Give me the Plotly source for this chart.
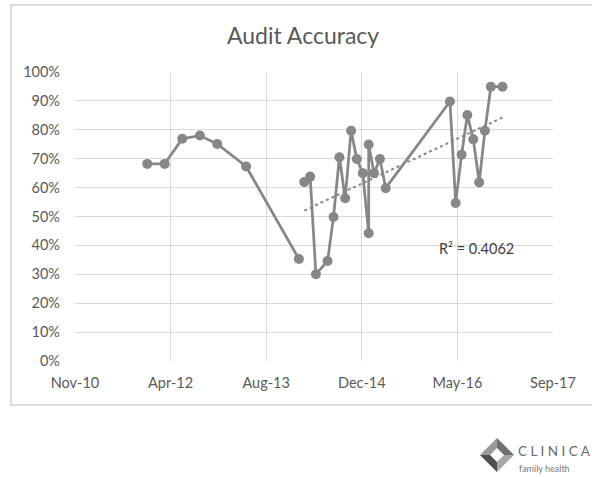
import numpy as np
import pandas as pd
import plotly.graph_objects as go

# ---------------- data ----------------
series1_dates = ["2011-12-01", "2012-03-01", "2012-06-01", "2012-09-01",
                 "2012-12-01", "2013-05-01", "2014-02-01"]
series1_values = [0.682, 0.682, 0.769, 0.780, 0.751, 0.673, 0.353]

series2_dates = ["2014-03-01", "2014-04-01", "2014-05-01", "2014-07-01",
                 "2014-08-01", "2014-09-01", "2014-10-01", "2014-11-01",
                 "2014-12-01", "2015-01-01", "2015-02-01", "2015-02-01",
                 "2015-03-01", "2015-04-01", "2015-05-01", "2016-04-01",
                 "2016-05-01", "2016-06-01", "2016-07-01", "2016-08-01",
                 "2016-09-01", "2016-10-01", "2016-11-01", "2017-01-01"]
series2_values = [0.619, 0.638, 0.300, 0.346, 0.498, 0.705, 0.563, 0.797,
                  0.699, 0.650, 0.442, 0.749, 0.650, 0.699, 0.598, 0.898,
                  0.547, 0.714, 0.851, 0.767, 0.618, 0.797, 0.949, 0.949]

x_tick_dates = ["2010-11-18", "2012-04-01", "2013-08-14", "2014-12-27",
                "2016-05-10", "2017-09-22"]
x_tick_labels = ["Nov-10", "Apr-12", "Aug-13", "Dec-14", "May-16", "Sep-17"]

title_text = "Audit Accuracy"
r2_label = "R² = 0.4062"

# ---------------- layout geometry (pixels) ----------------
W, H = 592, 477
PL, PR, PT, PB = 75, 553, 72, 361  # plot area


def px(x):
    return (x - PL) / (PR - PL)


def py(y):
    return (PB - y) / (PB - PT)


LINE_COLOR = "#878787"
TEXT_COLOR = "#595959"
GRID = "#d9d9d9"
FONT = "Lato, 'Open Sans', sans-serif"

fig = go.Figure()

for d, v in [(series1_dates, series1_values), (series2_dates, series2_values)]:
    fig.add_trace(go.Scatter(
        x=pd.to_datetime(d), y=v, mode="lines+markers",
        line=dict(color=LINE_COLOR, width=2.75),
        marker=dict(color=LINE_COLOR, size=10),
        showlegend=False, hoverinfo="x+y"))

# linear trendline on the second series
t2 = pd.to_datetime(series2_dates)
days = (t2 - t2[0]).days.values.astype(float)
slope, intercept = np.polyfit(days, series2_values, 1)
trend_x = [t2.min(), t2.max()]
trend_days = np.array([(t - t2[0]).days for t in trend_x], dtype=float)
fig.add_trace(go.Scatter(
    x=trend_x, y=slope * trend_days + intercept, mode="lines",
    line=dict(color=LINE_COLOR, width=2, dash="dot"),
    showlegend=False, hoverinfo="skip"))

shapes = []
# chart frame
shapes.append(dict(type="rect", xref="paper", yref="paper",
                   x0=px(11), x1=px(600), y0=py(405), y1=py(5),
                   line=dict(color="#d0d0d0", width=1.5), layer="below"))

# logo diamond ring
cx, cy, ro, ri = 497, 455, 17, 7
O = [(cx - ro, cy), (cx, cy - ro), (cx + ro, cy), (cx, cy + ro)]
I = [(cx - ri, cy), (cx, cy - ri), (cx + ri, cy), (cx, cy + ri)]
shades = ["#9a9a9a", "#6f6f6f", "#a8a8a8", "#4f4f4f"]
for k in range(4):
    a, b = O[k], O[(k + 1) % 4]
    c, d = I[(k + 1) % 4], I[k]
    path = "M {} {} L {} {} L {} {} L {} {} Z".format(
        px(a[0]), py(a[1]), px(b[0]), py(b[1]),
        px(c[0]), py(c[1]), px(d[0]), py(d[1]))
    shapes.append(dict(type="path", xref="paper", yref="paper", path=path,
                       fillcolor=shades[k], line=dict(width=0)))

annotations = [
    dict(text=title_text, x=px(303), y=py(35), xref="paper", yref="paper",
         showarrow=False, font=dict(family=FONT, size=23, color=TEXT_COLOR),
         xanchor="center", yanchor="middle"),
    dict(text=r2_label, x=px(476), y=py(248), xref="paper", yref="paper",
         showarrow=False, font=dict(family=FONT, size=14.5, color="#404040"),
         xanchor="center", yanchor="middle"),
    dict(text="C L I N I C A", x=px(516), y=py(451), xref="paper", yref="paper",
         showarrow=False, font=dict(family=FONT, size=13.5, color="#6a6a6a"),
         xanchor="left", yanchor="middle"),
    dict(text="family health", x=px(517), y=py(468), xref="paper", yref="paper",
         showarrow=False, font=dict(family=FONT, size=9, color="#7a7a7a"),
         xanchor="left", yanchor="middle"),
]

fig.update_layout(
    width=W, height=H,
    margin=dict(l=PL, r=W - PR, t=PT, b=H - PB, pad=0),
    paper_bgcolor="white", plot_bgcolor="white",
    font=dict(family=FONT, size=14.5, color=TEXT_COLOR),
    shapes=shapes, annotations=annotations,
    xaxis=dict(type="date", range=[x_tick_dates[0], x_tick_dates[-1]],
               tickvals=pd.to_datetime(x_tick_dates), ticktext=x_tick_labels,
               showgrid=True, gridcolor=GRID, gridwidth=1, zeroline=False,
               showline=False, ticks="", ticklabelstandoff=11,
               tickfont=dict(size=14.5, color=TEXT_COLOR), fixedrange=True),
    yaxis=dict(range=[0, 1], tickvals=[i / 10 for i in range(11)],
               tickformat=".0%", showgrid=True, gridcolor=GRID, gridwidth=1,
               zeroline=False, showline=False, ticks="", ticklabelstandoff=14,
               tickfont=dict(size=14.5, color=TEXT_COLOR), fixedrange=True),
)

fig.write_html(
    "out.html",
    config={"displayModeBar": False},
    post_script="document.body.style.margin='0';document.body.style.overflow='hidden';",
)
